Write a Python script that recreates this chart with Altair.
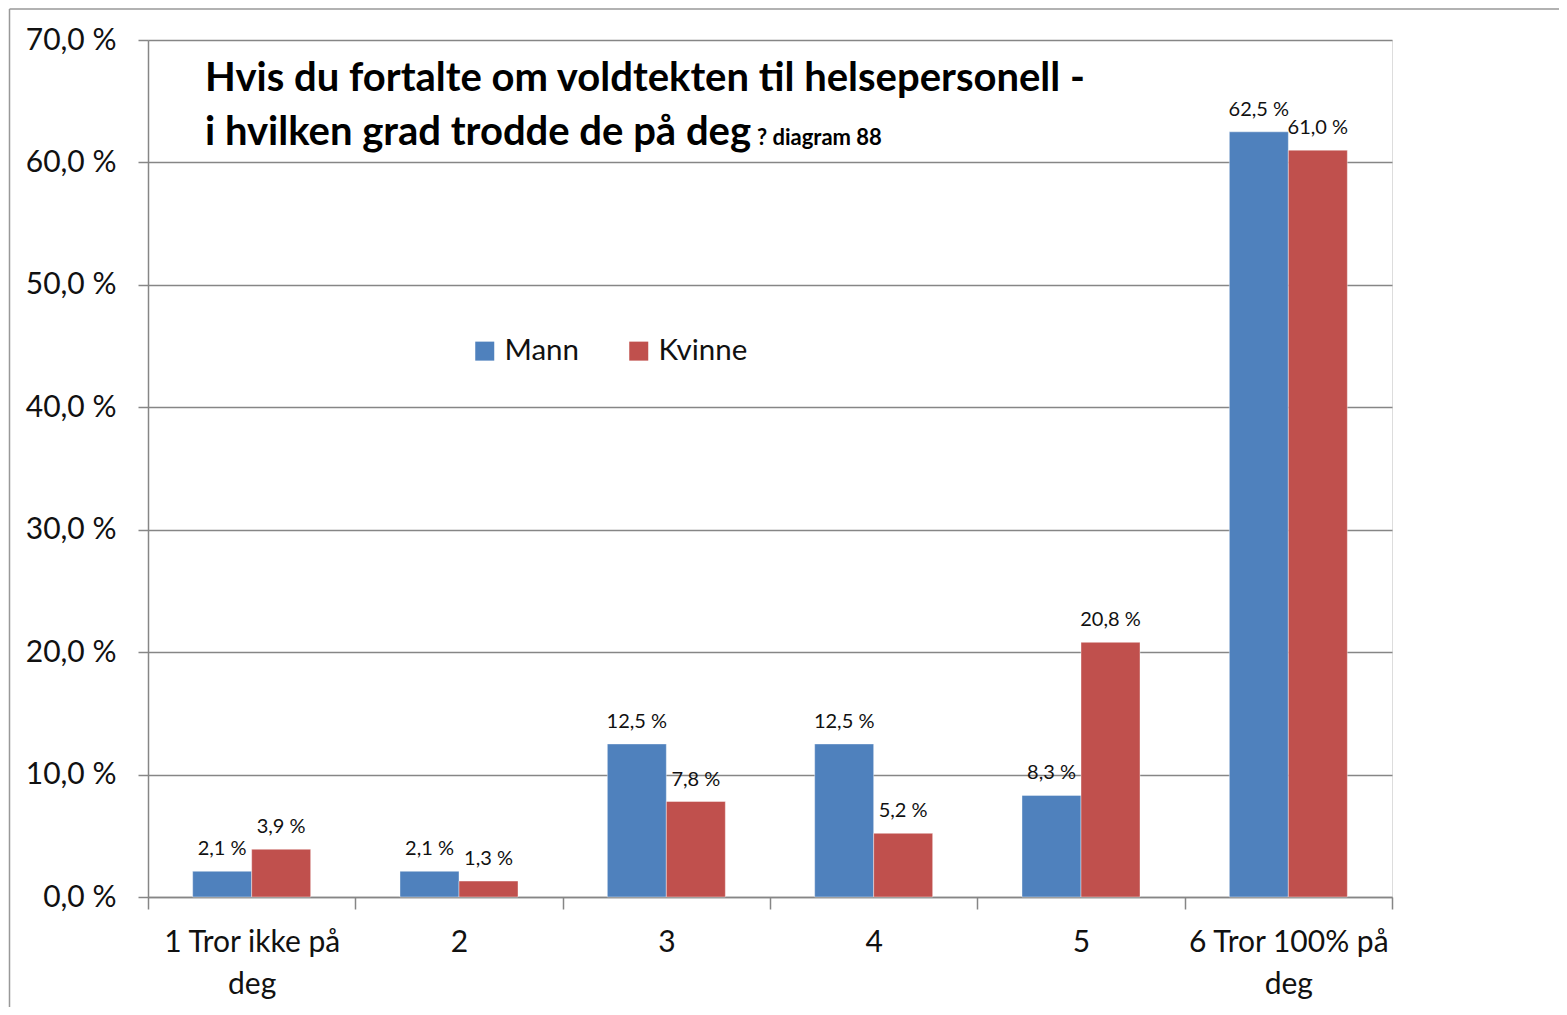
import altair as alt
import pandas as pd

categories = ["1 Tror ikke på\ndeg", "2", "3", "4", "5", "6 Tror 100% på\ndeg"]
series = ["Mann", "Kvinne"]
mann = [2.1, 2.1, 12.5, 12.5, 8.3, 62.5]
kvinne = [3.9, 1.3, 7.8, 5.2, 20.8, 61.0]
colors = ["#4F81BD", "#C0504D"]
title_line1 = "Hvis du fortalte om voldtekten til helsepersonell -"
title_line2 = "i hvilken grad trodde de på deg"
title_small = "? diagram 88"

rows = []
for i, c in enumerate(categories):
    rows.append({"cat": c, "series": "Mann", "value": mann[i]})
    rows.append({"cat": c, "series": "Kvinne", "value": kvinne[i]})
df = pd.DataFrame(rows)
df["label"] = df["value"].map(lambda v: f"{v:.1f}".replace(".", ",") + " %")

FONT = "Lato"
W, H = 1244, 857

x_enc = alt.X("cat:N", sort=categories, title=None,
              scale=alt.Scale(paddingInner=0, paddingOuter=0),
              axis=alt.Axis(tickBand="extent", labelAngle=0, labelFontSize=30,
                            labelFont=FONT, labelColor="#111", tickSize=12,
                            tickColor="#868686", domainColor="#868686",
                            domainWidth=1.5, tickWidth=1.5, labelLimit=0,
                            labelPadding=18, labelLineHeight=42,
                            labelExpr="split(datum.label, '\\n')", grid=False))
xo_enc = alt.XOffset("series:N", sort=series,
                     scale=alt.Scale(paddingInner=0, paddingOuter=0.757))
y_enc = alt.Y("value:Q", title=None,
              scale=alt.Scale(domain=[0, 70], nice=False),
              axis=alt.Axis(values=[0, 10, 20, 30, 40, 50, 60, 70],
                            labelExpr="replace(format(datum.value, '.1f'), '.', ',') + ' %'",
                            labelFontSize=30, labelFont=FONT, labelColor="#111",
                            labelPadding=22, tickSize=10, tickColor="#868686",
                            tickWidth=1.5, domainColor="#868686", domainWidth=1.5,
                            gridColor="#868686", gridWidth=1.5))
color_enc = alt.Color("series:N", sort=series,
                      scale=alt.Scale(domain=series, range=colors),
                      legend=alt.Legend(title=None, orient="none", legendX=322, legendY=296,
                                        direction="horizontal", symbolType="square",
                                        symbolSize=361, symbolStrokeWidth=0,
                                        labelFontSize=29.5, labelFont=FONT, labelColor="#111",
                                        labelOffset=5, columnPadding=44))

base = alt.Chart(df)
bars = base.mark_bar(stroke="#ffffff", strokeOpacity=0.4, strokeWidth=1).encode(
    x=x_enc, xOffset=xo_enc, y=y_enc, color=color_enc)
labels = base.mark_text(fontSize=20, font=FONT, color="#111", baseline="middle", dy=-22).encode(
    x=alt.X("cat:N", sort=categories), xOffset=alt.XOffset("series:N", sort=series),
    y="value:Q", text="label:N")

t1 = alt.Chart(pd.DataFrame({"t": [title_line1]})).mark_text(
    fontSize=40, font=FONT, fontWeight="bold", align="left", baseline="alphabetic", color="#000"
).encode(x=alt.value(57), y=alt.value(51), text="t:N")
t2 = alt.Chart(pd.DataFrame({"t": [title_line2]})).mark_text(
    fontSize=40, font=FONT, fontWeight="bold", align="left", baseline="alphabetic", color="#000"
).encode(x=alt.value(57), y=alt.value(105), text="t:N")
t3 = alt.Chart(pd.DataFrame({"t": [title_small]})).mark_text(
    fontSize=22, font=FONT, fontWeight="bold", align="left", baseline="alphabetic", color="#000"
).encode(x=alt.value(609), y=alt.value(105), text="t:N")

border_left = alt.Chart(pd.DataFrame({"a": [0]})).mark_rule(color="#999", strokeWidth=1.5).encode(
    x=alt.value(-138.5), y=alt.value(-31), y2=alt.value(H + 130))
border_top = alt.Chart(pd.DataFrame({"a": [0]})).mark_rule(color="#999", strokeWidth=1.5).encode(
    x=alt.value(-138.5), x2=alt.value(W + 200), y=alt.value(-31))

chart = alt.layer(bars, labels, t1, t2, t3, border_left, border_top).properties(
    width=W, height=H,
    autosize=alt.AutoSizeParams(type="none"),
    padding={"left": 140, "top": 32, "right": 167, "bottom": 110},
).configure_view(stroke=None).configure(background="white")

chart.save("out.html", embed_options={"renderer": "svg", "actions": False})
